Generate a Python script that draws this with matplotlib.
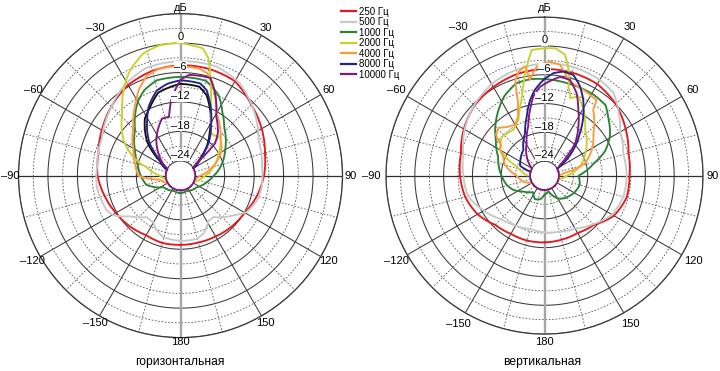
import numpy as np
import matplotlib
matplotlib.use('Agg')
import matplotlib.pyplot as plt
from matplotlib.lines import Line2D
from matplotlib.path import Path
from matplotlib.patches import PathPatch

plt.rcParams['font.family'] = ['Liberation Sans', 'DejaVu Sans']

# ---------------- data ----------------
series_names = ['250 Гц', '500 Гц', '1000 Гц', '2000 Гц', '4000 Гц', '8000 Гц', '10000 Гц']
series_colors = ['#e3191e', '#c8c8c8', '#2a8436', '#c9d02c', '#ff9a3c', '#23238c', '#84187f']
extra_color = '#111111'

panel_titles = ['горизонтальная', 'вертикальная']
ring_labels = ['0', '\u20136', '\u201312', '\u201318', '\u201324']
ring_label_values = [0, -6, -12, -18, -24]
angle_ticks = [0, 30, 60, 90, 120, 150, 180, 210, 240, 270, 300, 330]
angle_tick_labels = ['дБ', '30', '60', '90', '120', '150', '180',
                     '\u2013150', '\u2013120', '\u201390', '\u201360', '\u201330']

# --- horizontal plane (angle in degrees, level in dB) ---
h250_ang = [-180, -165, -150, -135, -120, -105, -90, -75, -60, -45, -30, -15, 0,
            15, 30, 45, 60, 75, 90, 105, 120, 135, 150, 165, 180]
h250_db = [-12.9, -12.8, -13.0, -12.4, -11.8, -11.0, -10.1, -9.7, -8.5, -7.1, -5.7, -4.9, -4.5,
           -4.5, -4.8, -6.6, -7.9, -9.2, -10.0, -10.9, -11.9, -12.3, -12.7, -12.9, -12.9]

h500_ang = [-180, -164.5, -156.6, -149.8, -140.8, -128.9, -120.6, -115.2, -97.7, -84, -65, -48,
            -33, -18, 0, 18.5, 33, 48.2, 65.6, 83.9, 97.9, 107.9, 118.7, 126.8, 141.4, 147.9,
            158.4, 165.5, 180]
h500_db = [-13.7, -14.0, -14.8, -16.0, -16.1, -13.8, -11.1, -10.4, -9.8, -9.9, -9.3, -7.5,
           -5.5, -4.0, -3.7, -3.6, -4.7, -7.0, -9.55, -10.3, -10.3, -10.6, -11.6, -13.5, -16.2,
           -16.2, -14.3, -13.7, -13.7]

h1000_ang = [-180, -157, -124, -105, -90, -74, -61, -45, -30, -23, -14, 0, 15, 25, 28, 33,
             42, 47, 60, 74, 90, 104, 125, 158, 180]
h1000_db = [-23.4, -23.6, -22.8, -19.8, -18.9, -17.9, -16.4, -13.9, -9.6, -8.1, -7.0, -6.9,
            -7.0, -8.8, -9.7, -11.4, -13.7, -14.5, -16.5, -18.2, -20.2, -21.5, -22.9, -23.6, -23.4]

h2000_ang = [-105, -90, -76, -73, -67, -60, -58, -43, -31, -25.5, -17, -9, 0, 10, 13.5, 15,
             20, 25, 30, 35, 39, 46, 60, 75, 93, 116]
h2000_db = [-24.0, -22.8, -19.8, -18.4, -16.2, -13.9, -13.3, -9.6, -5.1, -3.2, -1.0, -0.1, 0.0,
            -0.7, -2.5, -4.1, -8.9, -12.4, -14.6, -16.2, -16.4, -15.7, -18.0, -20.0, -22.3, -24.0]

h4000_ang = [-120, -101, -90, -75, -60, -44, -32, -26, -18.5, -11, 0, 10, 15, 20, 25, 30, 46,
             60, 73, 90, 105]
h4000_db = [-24.0, -22.7, -18.4, -17.4, -15.9, -13.2, -9.7, -7.6, -5.5, -4.8, -4.7, -4.9, -5.5,
            -7.7, -10.1, -12.3, -15.7, -17.4, -19.9, -23.0, -24.0]

h8000_ang = [-68, -62, -53, -44, -31, -25, -15.5, -8, 0, 12, 17, 25, 32, 41, 44, 53, 62]
h8000_db = [-24.0, -23.0, -21.8, -18.0, -13.8, -11.6, -9.0, -8.1, -7.6, -7.8, -8.8, -12.3,
            -15.3, -18.3, -19.8, -22.3, -24.0]

h10000_ang = [-180, -150, -120, -90, -62, -55, -45, -34, -24, -18, -11, -7, 0, 5, 17, 23, 31,
              41, 47, 52, 58, 90, 120, 150, 180]
h10000_db = [-24, -24, -24, -24, -24, -22.6, -20.7, -18.2, -16.1, -14.8, -14.8, -11.5, -7.5,
             -6.4, -6.2, -8.9, -12.9, -15.4, -17.4, -22.9, -24, -24, -24, -24, -24]

h_extra_ang = [-65, -55, -45, -32, -25, -15, 0, 12, 18, 26, 33, 42, 50, 58]
h_extra_db = [-24.0, -22.0, -17.5, -13.3, -12.0, -9.5, -8.3, -8.5, -9.8, -13.0, -16.0, -19.0,
              -22.0, -24.0]

# --- vertical plane ---
v250_ang = [-180, -165, -150, -135, -120, -105, -90, -75, -60, -45, -30, -15, 0,
            15, 30, 45, 60, 75, 90, 105, 120, 135, 150, 165, 180]
v250_db = [-13.1, -13.0, -13.0, -12.5, -10.9, -9.9, -9.4, -9.0, -7.6, -6.4, -5.7, -5.1, -4.8,
           -4.8, -5.0, -6.0, -7.5, -8.9, -9.3, -9.3, -10.3, -12.5, -13.2, -13.2, -13.1]

v500_ang = [-180, -165, -150, -135, -120, -105, -90, -75, -60, -45, -30, -15, 0,
            15, 30, 40, 50, 60, 75, 90, 105, 120, 135, 150, 165, 180]
v500_db = [-15.2, -15.5, -15.0, -14.2, -12.4, -10.5, -10.1, -9.5, -7.8, -6.3, -5.0, -4.2, -3.6,
           -3.6, -4.0, -4.6, -6.8, -8.8, -10.0, -9.9, -10.0, -10.75, -12.7, -14.3, -14.9, -15.2]

v1000_ang = [-180, -170, -158, -145, -127, -115, -104, -91, -68, -54, -39, -27, -17, -8, 0,
             14, 31, 41, 47, 59, 68, 76, 90, 105, 121, 140, 150, 166, 180]
v1000_db = [-23.0, -22.0, -21.7, -22.8, -21.5, -19.9, -18.9, -18.1, -16.6, -14.5, -11.2, -8.5,
            -6.9, -6.7, -6.9, -7.2, -7.3, -7.6, -8.9, -11.1, -13.4, -16.4, -19.9, -19.4, -19.9,
            -20.8, -21.5, -23.6, -23.0]

v2000_ang = [-90, -72, -66.5, -60, -47.6, -34, -25, -16.7, -12.8, -9.2, -5.8, 0, 4.8, 9.7,
             12.8, 15.1, 18.4, 23.3, 30.7, 41.7, 52.6, 61.2, 75.8, 90, 105]
v2000_db = [-23.5, -21.0, -18.8, -16.3, -15.0, -15.5, -14.2, -10.5, -7.3, -4.0, -0.7, -0.5,
            -0.4, -1.5, -4.4, -7.8, -10.0, -9.1, -11.1, -14.3, -15.9, -17.3, -19.4, -22.3, -24.0]

v4000_ang = [-120, -106, -90, -75, -65, -60, -55, -50, -44, -38, -30, -24, -20, -17, -14, -10,
             -8.6, -4, 2.8, 8, 12.6, 16.4, 24.4, 30.9, 34.5, 36.6, 49, 61.4, 73, 78.8, 82.7, 90]
v4000_db = [-24.0, -22.4, -21.2, -18.5, -17.5, -16.3, -16.0, -13.8, -13.2, -14.2, -14.8, -13.5,
            -11.0, -6.2, -4.7, -3.9, -6.8, -4.2, -3.25, -3.7, -5.9, -6.9, -7.4, -7.8, -7.9, -10.0,
            -13.5, -15.8, -18.2, -20.9, -23.0, -24.0]

v8000_ang = [-75, -68, -63, -39.5, -24.7, -16.8, -10.8, -6.3, -0.7, 4.9, 10.2, 16, 21.7, 27.1,
             33.3, 39.9, 48.3, 56.6, 62]
v8000_db = [-24.0, -21.5, -21.3, -20.1, -17.3, -14.2, -11.0, -9.0, -7.1, -5.6, -5.0, -5.2,
            -7.0, -9.3, -12.3, -15.5, -19.0, -22.3, -24.0]

v10000_ang = [-180, -120, -60, -43, -28.8, -18.3, -12.4, -8.1, -2.9, 8.9, 14.9, 21.3, 27.2,
              34.6, 43.3, 49.4, 55.4, 62, 120, 180]
v10000_db = [-24, -24, -24, -21.6, -19.3, -16.2, -13.0, -10.4, -8.5, -6.2, -6.4, -8.6, -11.6,
             -14.6, -17.7, -20.9, -23.1, -24, -24, -24]

horizontal = [(h250_ang, h250_db), (h500_ang, h500_db), (h1000_ang, h1000_db),
              (h2000_ang, h2000_db), (h4000_ang, h4000_db), (h8000_ang, h8000_db),
              (h10000_ang, h10000_db)]
vertical = [(v250_ang, v250_db), (v500_ang, v500_db), (v1000_ang, v1000_db),
            (v2000_ang, v2000_db), (v4000_ang, v4000_db), (v8000_ang, v8000_db),
            (v10000_ang, v10000_db)]

R_MIN, R_DISK, R_MAX = -27, -24, 6

# ---------------- figure ----------------
fig = plt.figure(figsize=(7.2, 3.71), dpi=100)
fig.patch.set_facecolor('white')

W, H = 720.0, 371.0


def make_axes(cx, cy, rad):
    return fig.add_axes([(cx - rad) / W, (H - cy - rad) / H, 2 * rad / W, 2 * rad / H],
                        projection='polar')


def curve(ax, ang, db, color, z=3):
    # polar path: matplotlib interpolates each segment in (theta, r) space
    verts = np.column_stack([np.radians(ang), db])
    p = Path(verts, _interpolation_steps=40)
    ax.add_patch(PathPatch(p, fill=False, edgecolor=color, lw=1.35, zorder=z,
                           joinstyle='round', capstyle='round'))


def draw_panel(ax, data, rad_px, offsets, extra=None):
    ax.set_theta_zero_location('N')
    ax.set_theta_direction(-1)
    ax.set_ylim(R_MIN, R_MAX)
    ax.grid(False)
    ax.set_xticks([])
    ax.set_yticks([])
    ax.spines['polar'].set_color('#3a3a3a')
    ax.spines['polar'].set_linewidth(0.9)
    ax.set_facecolor('white')
    full = np.linspace(0, 2 * np.pi, 721)
    # rings
    for v in np.arange(-24, 7, 3):
        if v % 6 == 0:
            ax.plot(full, np.full_like(full, v), color='#3a3a3a', lw=0.75, zorder=1)
        else:
            ax.plot(full, np.full_like(full, v), color='#555555', lw=0.6,
                    linestyle=(0, (2, 2)), zorder=1)
    # spokes
    for a in range(0, 360, 15):
        th = np.radians(a)
        if a % 180 == 0:
            ax.plot([th, th], [R_DISK, R_MAX], color='#a6a6a6', lw=1.7, zorder=1)
        elif a % 90 == 0:
            ax.plot([th, th], [R_DISK, R_MAX], color='#303030', lw=0.9, zorder=1)
        elif a % 30 == 0:
            ax.plot([th, th], [R_DISK, R_MAX], color='#3a3a3a', lw=0.75, zorder=1)
        else:
            ax.plot([th, th], [R_DISK, R_MAX], color='#555555', lw=0.6,
                    linestyle=(0, (2, 2)), zorder=1)
    # central white disk
    ax.fill(full, np.full_like(full, R_DISK), color='white', zorder=2)
    ax.plot(full, np.full_like(full, R_DISK), color='#3a3a3a', lw=0.75, zorder=2)
    # curves
    if extra is not None:
        curve(ax, extra[0], extra[1], extra_color)
    for (ang, db), col in zip(data, series_colors):
        curve(ax, ang, db, col)
    # radial labels
    for v, t in zip(ring_label_values, ring_labels):
        ax.annotate(t, xy=(0, v), xytext=(0, 4.2), textcoords='offset points',
                    ha='center', va='center', fontsize=8, zorder=6,
                    bbox=dict(boxstyle='square,pad=0.05', fc='white', ec='none'))
    # angle labels
    px_per_db = rad_px / (R_MAX - R_MIN)
    for a, t in zip(angle_ticks, angle_tick_labels):
        off = offsets.get(a, offsets['base'])
        ax.text(np.radians(a), R_MAX + off / px_per_db, t, ha='center', va='center',
                fontsize=8, zorder=6)


axL = make_axes(180.5, 175.6, 162)
draw_panel(axL, horizontal, 162, {'base': 8.5, 0: 5.5, 180: 4.5},
           extra=(h_extra_ang, h_extra_db))
axR = make_axes(544.5, 175.6, 158.5)
draw_panel(axR, vertical, 158.5, {'base': 13, 0: 9, 180: 8, 90: 9.5, 270: 15})

fig.text(180 / W, 1 - 362 / H, panel_titles[0], ha='center', va='center', fontsize=8.7)
fig.text(542 / W, 1 - 362 / H, panel_titles[1], ha='center', va='center', fontsize=8.7)

handles = [Line2D([], [], color=c, lw=1.6) for c in series_colors]
fig.legend(handles, series_names, loc='upper left', bbox_to_anchor=(335 / W, 1 - 1 / H),
           frameon=False, fontsize=7, handlelength=1.6, handletextpad=0.3,
           labelspacing=0.05, borderpad=0.1)

fig.savefig('out.png', dpi=100, facecolor='white')
